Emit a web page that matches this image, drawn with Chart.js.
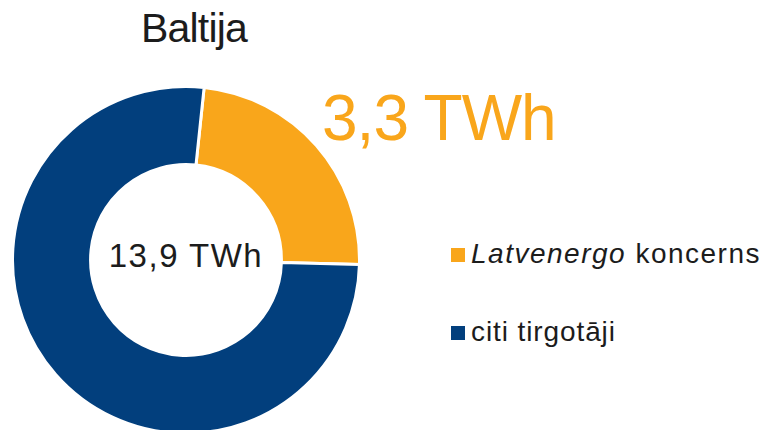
<!DOCTYPE html>
<html lang="lv">
<head>
<meta charset="UTF-8">
<title>Baltija</title>
<script src="https://cdn.jsdelivr.net/npm/chart.js"></script>
<style>
  html, body { margin: 0; padding: 0; background: #fff; }
  body { width: 769px; height: 430px; overflow: hidden; position: relative;
         font-family: "Liberation Sans", Arial, sans-serif; color: #1c1c1c; }
  .t { position: absolute; white-space: nowrap; line-height: 1; }
  #title { left: 141px; top: 8px; font-size: 41px; letter-spacing: -0.8px; }
  #big { left: 322px; top: 86px; font-size: 64px; letter-spacing: -1px; color: #f9a61b; }
  #center { left: 86px; width: 200px; text-align: center; top: 239px; font-size: 33px;
            letter-spacing: 1.5px; }
  .leg { position: absolute; left: 451px; font-size: 28px; }
  .leg span.box { position: absolute; left: 0; width: 14px; height: 14px; }
  .leg span.txt { position: absolute; left: 20px; line-height: 1; white-space: nowrap; }
  #wrap { position: absolute; left: 11px; top: 85px; width: 350px; height: 350px; }
</style>
</head>
<body>
<div id="title" class="t">Baltija</div>
<div id="big" class="t"></div>
<div id="center" class="t"></div>
<div id="legend"></div>
<div id="wrap"><canvas id="myChart" width="350" height="350"></canvas></div>
<script>
  // dati
  const labels = ['Latvenergo koncerns', 'citi tirgotāji'];
  const values = [3.3, 10.6];
  const colors = ['#f9a61b', '#023f7d'];
  const totalText = '13,9 TWh';
  const ownText = '3,3 TWh';

  document.getElementById('big').textContent = ownText;
  document.getElementById('center').textContent = totalText;

  // leģenda
  const legend = document.getElementById('legend');
  const legTops = [240, 318];
  const legSpacing = ['1.5px', '0.9px'];
  labels.forEach(function (lab, i) {
    const row = document.createElement('div');
    row.className = 'leg';
    row.style.top = legTops[i] + 'px';
    row.style.letterSpacing = legSpacing[i];
    const box = document.createElement('span');
    box.className = 'box';
    box.style.background = colors[i];
    box.style.top = '8px';
    const txt = document.createElement('span');
    txt.className = 'txt';
    if (i === 0) {
      const parts = lab.split(' ');
      txt.innerHTML = '<i>' + parts[0] + '</i> ' + parts.slice(1).join(' ');
    } else {
      txt.textContent = lab;
    }
    row.appendChild(box);
    row.appendChild(txt);
    legend.appendChild(row);
  });

  const ctx = document.getElementById('myChart');
  new Chart(ctx, {
    type: 'doughnut',
    data: {
      labels: labels,
      datasets: [{
        data: values,
        backgroundColor: colors,
        borderColor: '#ffffff',
        borderWidth: 3
      }]
    },
    options: {
      responsive: false,
      animation: false,
      rotation: 6,
      cutout: '55%',
      layout: { padding: 0 },
      plugins: {
        legend: { display: false },
        tooltip: { enabled: false }
      }
    }
  });
</script>
</body>
</html>
